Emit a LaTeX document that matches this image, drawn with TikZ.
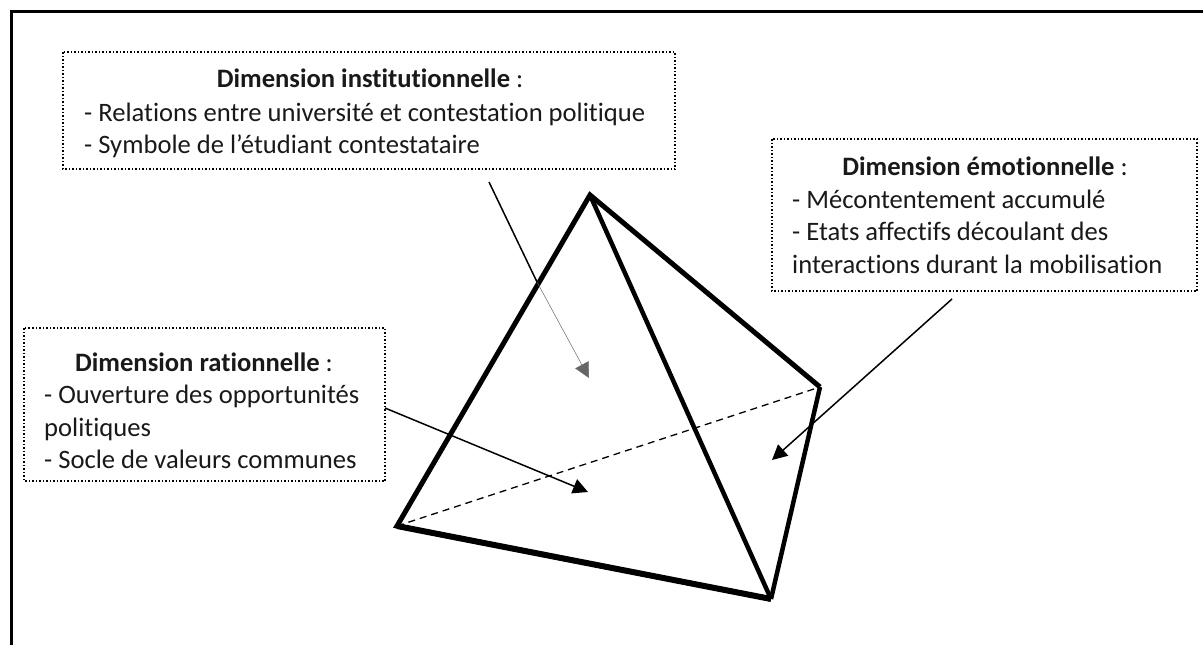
\documentclass[tikz,border=0pt]{standalone}
\usepackage{fontspec}
\setmainfont[Ligatures=NoCommon]{Carlito}
\usetikzlibrary{arrows.meta}
\tikzset{
  x=1pt,y=-1pt,
  dimbox/.style={draw=black,line width=1.5pt,dotted},
  dimtext/.style={font=\fontsize{26.6}{32}\selectfont,anchor=base west,inner sep=0pt,text=black!90},
  dimhead/.style={dimtext,anchor=base},
  edgeline/.style={line width=5pt,line cap=butt,line join=miter},
  shaft/.style={line width=1.5pt},
  tipped/.style={-{Triangle[length=15pt,width=15pt]}},
  pointer/.style={shaft,tipped},
  hidden/.style={line width=1.3pt,dash pattern=on 7pt off 5pt},
}
\begin{document}
\begin{tikzpicture}
\useasboundingbox (0,0) rectangle (1203,645);
\draw[line width=2.5pt] (11.5,645) -- (11.5,11.5) -- (1203,11.5);
\coordinate (A) at (590,195);
\coordinate (B) at (397,526);
\coordinate (C) at (771,599);
\coordinate (D) at (820,387);
\draw[hidden] (B) -- (D);
\draw[edgeline] (C) -- (B) -- (A) -- (D);
\draw[edgeline,line width=4.5pt] (D) -- (C);
\draw[edgeline,line width=4.5pt] (A) -- (C);
\draw[edgeline,line width=6pt] (B) -- (C);
\draw[dimbox] (63,52) rectangle (675,169);
\draw[dimbox] (24,328) rectangle (385,481);
\draw[dimbox] (772,139) rectangle (1197,291);
\node[dimhead] (t1) at (370,87) {\textbf{Dimension institutionnelle} :};
\node[dimtext] (t1a) at (84,121) {- Relations entre université et contestation politique};
\node[dimtext] (t1b) at (84,153) {- Symbole de l’étudiant contestataire};
\node[dimhead] (t2) at (204,371) {\textbf{Dimension rationnelle} :};
\node[dimtext] (t2a) at (44,403) {- Ouverture des opportunités};
\node[dimtext] (t2b) at (44,436) {politiques};
\node[dimtext] (t2c) at (44,468) {- Socle de valeurs communes};
\node[dimhead] (t3) at (985,175) {\textbf{Dimension émotionnelle} :};
\node[dimtext] (t3a) at (792,208) {- Mécontentement accumulé};
\node[dimtext] (t3b) at (792,240) {- Etats affectifs découlant des};
\node[dimtext] (t3c) at (792,273) {interactions durant la mobilisation};
\coordinate (p1) at (489,182);
\coordinate (m1) at (537,282);
\coordinate (q1) at (589,378);
\coordinate (p2) at (385,408);
\coordinate (q2) at (588,492);
\coordinate (p3) at (952,299);
\coordinate (q3) at (772,460);
\draw[shaft] (p1) -- (m1);
\draw[tipped,line width=0.5pt,black!60] (m1) -- (q1);
\draw[pointer] (p2) -- (q2);
\draw[pointer] (p3) -- (q3);
\end{tikzpicture}
\end{document}
